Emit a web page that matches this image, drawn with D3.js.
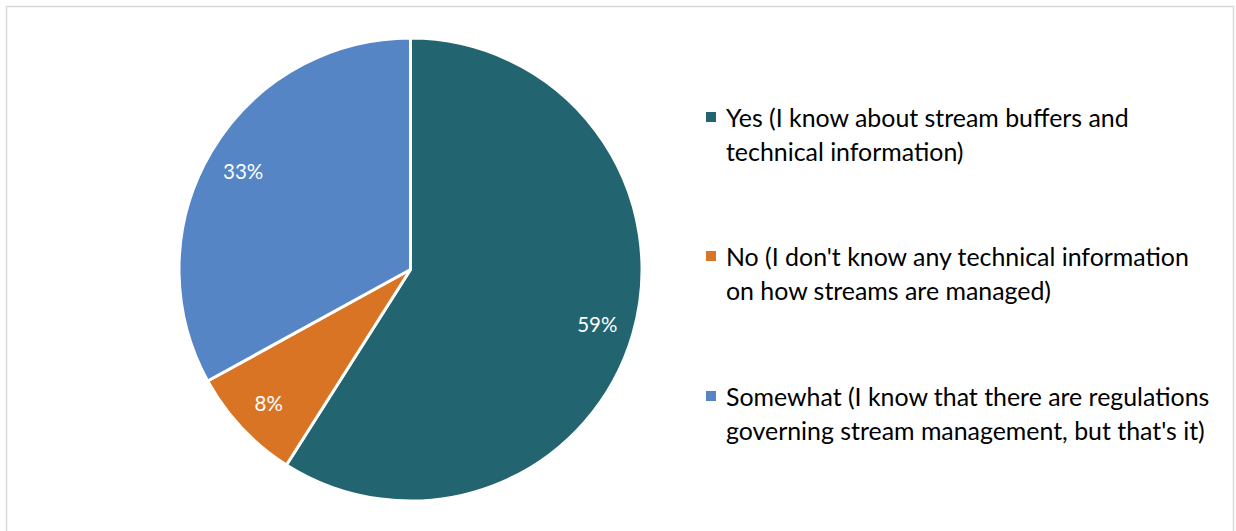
<!DOCTYPE html>
<html>
<head>
<meta charset="utf-8">
<script src="https://cdn.jsdelivr.net/npm/d3@7"></script>
<style>
  html, body { margin: 0; padding: 0; background: #fff; }
  svg { display: block; }
</style>
</head>
<body>
<svg id="chart" width="1236" height="531"></svg>
<script>
// Survey answers, share of respondents (%)
const categories = ["Yes", "No", "Somewhat"];
const values = [59, 8, 33];
const legendLines = [
  ["Yes (I know about stream buffers and", "technical information)"],
  ["No (I don't know any technical information", "on how streams are managed)"],
  ["Somewhat (I know that there are regulations", "governing stream management, but that's it)"]
];
const colors = ["#22646f", "#d97424", "#5585c5"];

const svg = d3.select("#chart");

// chart frame
svg.append("rect")
  .attr("x", 6.5).attr("y", 6.5)
  .attr("width", 1227).attr("height", 540)
  .attr("fill", "#fff")
  .attr("stroke", "#d9d9d9").attr("stroke-width", 1.5);

const cx = 410.5, cy = 269.5, R = 231.5;
const color = d3.scaleOrdinal().domain(categories).range(colors);

const pie = d3.pie().sort(null).value(d => d.value);
const arcs = pie(categories.map((c, i) => ({ cat: c, value: values[i] })));
const arc = d3.arc().innerRadius(0).outerRadius(R);
const labelArc = d3.arc().innerRadius(R * 0.84).outerRadius(R * 0.84);

const g = svg.append("g").attr("transform", `translate(${cx},${cy})`);
g.selectAll("path.slice")
  .data(arcs)
  .join("path")
  .attr("class", "slice")
  .attr("d", arc)
  .attr("fill", d => color(d.data.cat))
  .attr("stroke", "#fff")
  .attr("stroke-width", 3)
  .attr("stroke-linejoin", "round");

g.selectAll("text.pct")
  .data(arcs)
  .join("text")
  .attr("class", "pct")
  .attr("transform", d => `translate(${labelArc.centroid(d)})`)
  .attr("text-anchor", "middle")
  .attr("dominant-baseline", "central")
  .attr("fill", "#fff")
  .attr("font-family", "Lato, 'Open Sans', sans-serif")
  .attr("font-size", 20.5)
  .text(d => d.data.value + "%");

// legend
const legend = svg.append("g").attr("class", "legend");
const legendY = [117, 256, 396];
const lineH = 34;
categories.forEach((c, i) => {
  const row = legend.append("g").attr("transform", `translate(706,${legendY[i]})`);
  row.append("rect")
    .attr("x", 0).attr("y", -5)
    .attr("width", 10).attr("height", 10)
    .attr("fill", color(c));
  const t = row.append("text")
    .attr("x", 20)
    .attr("fill", "#000")
    .attr("font-family", "Lato, 'Open Sans', sans-serif")
    .attr("font-size", 24.9);
  legendLines[i].forEach((ln, j) => {
    t.append("tspan")
      .attr("x", 20)
      .attr("y", j * lineH)
      .attr("dominant-baseline", "central")
      .text(ln);
  });
});
</script>
</body>
</html>
